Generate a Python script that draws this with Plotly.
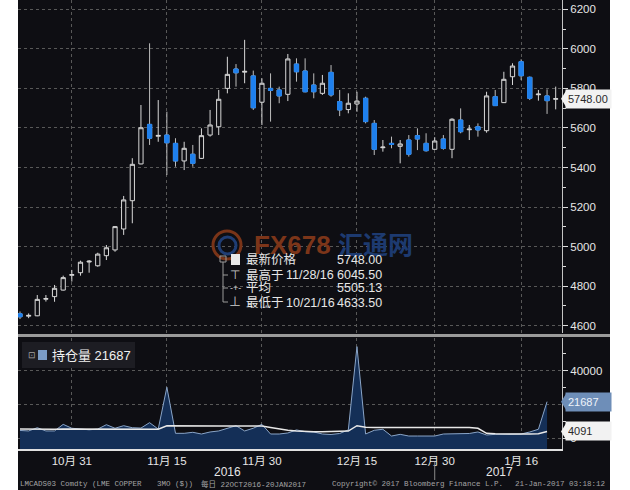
import plotly.graph_objects as go

# ---------------- data ----------------
dates = ["2016-10-21", "2016-10-24", "2016-10-25", "2016-10-26", "2016-10-27", "2016-10-28", "2016-10-31",
         "2016-11-01", "2016-11-02", "2016-11-03", "2016-11-04", "2016-11-07", "2016-11-08", "2016-11-09",
         "2016-11-10", "2016-11-11", "2016-11-14", "2016-11-15", "2016-11-16", "2016-11-17", "2016-11-18",
         "2016-11-21", "2016-11-22", "2016-11-23", "2016-11-24", "2016-11-25", "2016-11-28", "2016-11-29",
         "2016-11-30", "2016-12-01", "2016-12-02", "2016-12-05", "2016-12-06", "2016-12-07", "2016-12-08",
         "2016-12-09", "2016-12-12", "2016-12-13", "2016-12-14", "2016-12-15", "2016-12-16", "2016-12-19",
         "2016-12-20", "2016-12-21", "2016-12-22", "2016-12-23", "2016-12-28", "2016-12-29", "2016-12-30",
         "2017-01-03", "2017-01-04", "2017-01-05", "2017-01-06", "2017-01-09", "2017-01-10", "2017-01-11",
         "2017-01-12", "2017-01-13", "2017-01-16", "2017-01-17", "2017-01-18", "2017-01-19", "2017-01-20"]

opens = [4660, 4648, 4650, 4734, 4747, 4780, 4855, 4868, 4922, 4903, 4954, 4983, 5089, 5232, 5418, 5618,
         5558, 5564, 5522, 5433, 5467, 5446, 5564, 5606, 5800, 5898, 5882, 5863, 5730, 5800, 5792, 5770,
         5923, 5888, 5817, 5775, 5881, 5733, 5693, 5721, 5750, 5623, 5500, 5522, 5507, 5539, 5561, 5522,
         5492, 5544, 5492, 5640, 5591, 5606, 5586, 5758, 5728, 5859, 5935, 5856, 5768, 5762, 5745]
highs = [4672, 4662, 4755, 4755, 4806, 4853, 4882, 4929, 4932, 4969, 5008, 5104, 5256, 5447, 5716, 6028,
         5741, 5682, 5548, 5530, 5514, 5598, 5691, 5792, 5960, 5923, 6045.5, 5890, 5851, 5876, 5809, 5974,
         5952, 5952, 5876, 5868, 5918, 5792, 5775, 5783, 5758, 5640, 5539, 5556, 5539, 5564, 5598, 5573,
         5553, 5564, 5649, 5699, 5615, 5623, 5783, 5792, 5884, 5927, 5947, 5860, 5792, 5795, 5809]
lows = [4633.5, 4638, 4648, 4722, 4721, 4778, 4823, 4853, 4868, 4898, 4932, 4974, 5059, 5118, 5416, 5514,
        5530, 5362, 5404, 5387, 5404, 5444, 5556, 5564, 5775, 5809, 5826, 5691, 5615, 5632, 5725, 5736,
        5834, 5780, 5750, 5767, 5758, 5660, 5674, 5682, 5623, 5463, 5480, 5497, 5421, 5455, 5488, 5480,
        5490, 5490, 5447, 5573, 5539, 5556, 5576, 5711, 5726, 5817, 5842, 5741, 5738, 5671, 5694]
closes = [4645, 4652, 4733, 4737, 4789, 4843, 4858, 4921, 4926, 4962, 4994, 5101, 5236, 5416, 5601, 5548,
          5562, 5525, 5433, 5497, 5421, 5561, 5615, 5745, 5871, 5879, 5886, 5702, 5826, 5790, 5762, 5949,
          5884, 5783, 5783, 5826, 5767, 5691, 5725, 5736, 5632, 5492, 5503, 5517, 5519, 5467, 5544, 5485,
          5534, 5497, 5644, 5581, 5594, 5590, 5762, 5713, 5846, 5913, 5864, 5750, 5771, 5738, 5748]

# open interest (持仓量) and its average line, one value per day up to Jan 19
open_interest = [4700, 4400, 6300, 4400, 4400, 8300, 6000, 5400, 5100, 5500, 8100, 6000, 7500, 6300, 6100,
                 9300, 5500, 30200, 3000, 3000, 3600, 2600, 3800, 4400, 6000, 7500, 4400, 6000, 8300, 2600,
                 2600, 3200, 5000, 4000, 3800, 2600, 2300, 2900, 5000, 54200, 2600, 4800, 5400, 1400, 2400,
                 1400, 1400, 1400, 1400, 2600, 2600, 2900, 2900, 3800, 2000, 2400, 2400, 2400, 2600, 3800,
                 5400, 21687]
oi_average = [5500, 5400, 5500, 5400, 5400, 5600, 5600, 5500, 5400, 5400, 5500, 5500, 5600, 5500, 5500,
              5600, 5400, 7500, 7400, 7300, 7300, 7300, 7300, 7300, 7300, 7300, 7300, 7300, 7300, 6500,
              5500, 4800, 4300, 4000, 4000, 4000, 4000, 4000, 4300, 7500, 6600, 6500, 6500, 6500, 6500,
              6500, 6500, 6500, 6500, 6500, 6500, 6500, 6500, 6000, 3000, 2700, 2600, 2600, 2600, 2600,
              2700, 4091]

tick_dates = ["2016-10-31", "2016-11-15", "2016-11-30", "2016-12-15", "2016-12-30", "2017-01-16"]
tick_labels = ["10月 31", "11月 15", "11月 30", "12月 15", "12月 30", "1月 16"]

legend_rows = ["最新价格", "最高于", "平均", "最低于"]
legend_dates = ["", "11/28/16", "", "10/21/16"]
legend_values = ["5748.00", "6045.50", "5505.13", "4633.50"]
oi_label = "持仓量"

price_range = [4563, 6247]
oi_range = [-6260, 59300]

# ---------------- geometry helpers ----------------
W, H = 630, 490
ML, MR, MT, MB = 18, 68, 0, 41
PW, PH = W - ML - MR, H - MT - MB


def xp(px):
    return (px - ML) / PW


def yp(py):
    return (MT + PH - py) / PH


BG = "#0e0e13"
BLUE = "#1e80ee"
GRID = "#585858"
TXT = "#e6e6e6"
FONT = "Liberation Sans, Arial, Noto Sans CJK SC"
MONO = "Liberation Mono, DejaVu Sans Mono, Noto Sans CJK SC"

x = list(range(len(dates)))
tickvals = [dates.index(d) for d in tick_dates]
xrange = [-0.23, 62.73]

fig = go.Figure()

# all candles: wicks + outlines in grey/white
fig.add_trace(go.Candlestick(
    x=x, open=opens, high=highs, low=lows, close=closes,
    increasing=dict(line=dict(color="#d8d8d8", width=1), fillcolor=BG),
    decreasing=dict(line=dict(color="#bdbdbd", width=1), fillcolor=BLUE),
    whiskerwidth=0, showlegend=False, hoverinfo="skip", xaxis="x", yaxis="y"))
# blue bodies for falling candles
body_hi = [max(o, c) for o, c in zip(opens, closes)]
body_lo = [min(o, c) for o, c in zip(opens, closes)]
fig.add_trace(go.Candlestick(
    x=x, open=opens, high=body_hi, low=body_lo, close=closes,
    increasing=dict(line=dict(color="rgba(0,0,0,0)", width=1), fillcolor="rgba(0,0,0,0)"),
    decreasing=dict(line=dict(color=BLUE, width=1), fillcolor=BLUE),
    whiskerwidth=0, showlegend=False, hoverinfo="skip", xaxis="x", yaxis="y"))

# open interest area (filled to bottom of panel)
xo = x[:len(open_interest)]
fig.add_trace(go.Scatter(x=xo, y=[oi_range[0]] * len(xo), mode="lines", line=dict(width=0),
                         showlegend=False, hoverinfo="skip", xaxis="x2", yaxis="y2"))
fig.add_trace(go.Scatter(x=xo, y=open_interest, mode="lines", fill="tonexty", fillcolor="#142f57",
                         line=dict(color="#8aa5c8", width=1), showlegend=False, hoverinfo="skip",
                         xaxis="x2", yaxis="y2"))
fig.add_trace(go.Scatter(x=xo, y=oi_average, mode="lines", line=dict(color="#e8e8e8", width=1.5),
                         showlegend=False, hoverinfo="skip", xaxis="x2", yaxis="y2"))

axis_common = dict(showgrid=True, gridcolor=GRID, griddash="dot", gridwidth=1, zeroline=False)

fig.update_layout(
    width=W, height=H, margin=dict(l=ML, r=MR, t=MT, b=MB, autoexpand=False),
    paper_bgcolor=BG, plot_bgcolor=BG, showlegend=False,
    font=dict(family=FONT, color=TXT),
    xaxis=dict(domain=[0, 1], anchor="y", range=xrange, tickvals=tickvals, showticklabels=False,
               ticks="", rangeslider=dict(visible=False), **axis_common),
    yaxis=dict(domain=[yp(333), 1], anchor="x", side="right", range=price_range, tick0=0, dtick=200,
               ticks="outside", ticklen=5, tickcolor="#dcdcdc", showline=True, linecolor="#c4c4c4",
               tickfont=dict(size=11.5, color=TXT),
               minor=dict(dtick=100, ticks="outside", ticklen=3, tickcolor="#dcdcdc", showgrid=False),
               **axis_common),
    xaxis2=dict(domain=[0, 1], anchor="y2", range=xrange, tickvals=tickvals, ticktext=tick_labels,
                ticks="", showline=True, linecolor="#e0e0e0", linewidth=1.5,
                tickfont=dict(size=11.5, color=TXT), rangeslider=dict(visible=False), **axis_common),
    yaxis2=dict(domain=[0, yp(338)], anchor="x2", side="right", range=oi_range, tick0=0, dtick=20000,
                tickformat="d", ticks="outside", ticklen=5, tickcolor="#dcdcdc", showline=True,
                linecolor="#c4c4c4", tickfont=dict(size=11.5, color=TXT),
                minor=dict(dtick=10000, ticks="outside", ticklen=3, tickcolor="#dcdcdc", showgrid=False),
                **axis_common),
)

shapes = []
annos = []


def rect(x0, y0, x1, y1, fill, line=None, layer="above"):
    shapes.append(dict(type="rect", xref="paper", yref="paper", x0=xp(x0), x1=xp(x1), y0=yp(y1), y1=yp(y0),
                       fillcolor=fill, line=dict(width=0) if line is None else line, layer=layer))


def seg(x0, y0, x1, y1, color, width=1):
    shapes.append(dict(type="line", xref="paper", yref="paper", x0=xp(x0), x1=xp(x1), y0=yp(y0), y1=yp(y1),
                       line=dict(color=color, width=width), layer="above"))


def text(px, py, s, size=13, color=TXT, anchor="left", family=FONT, **kw):
    annos.append(dict(xref="paper", yref="paper", x=xp(px), y=yp(py), text=s, showarrow=False,
                      xanchor=anchor, yanchor="middle", font=dict(size=size, color=color, family=family), **kw))


# white margins outside the black terminal area
rect(0, 0, 18, 490, "white")
rect(610, 0, 630, 490, "white")
# separator between panels
rect(18, 334, 610, 337, "#9a9a9a")

# watermark
shapes.append(dict(type="circle", xref="paper", yref="paper", x0=xp(213), x1=xp(241), y0=yp(259), y1=yp(231),
                   line=dict(color="#7a3418", width=3), layer="above"))
shapes.append(dict(type="circle", xref="paper", yref="paper", x0=xp(219), x1=xp(236), y0=yp(254), y1=yp(237),
                   line=dict(color="#1f3d74", width=3), layer="above"))
text(252, 245, "<b>FX678</b>", size=26, color="#7c3519")
text(336, 245, "<b>汇通网</b>", size=25, color="#1d3a70")

# top legend block
rect(220, 256, 226, 262, "rgba(0,0,0,0)", line=dict(color="#9a9a9a", width=1))
seg(223, 262, 223, 302, "#9a9a9a")
for yy in (275, 288, 302):
    seg(223, yy, 228, yy, "#9a9a9a")
rect(231, 254, 240, 265, "#e8e8e8")
text(235, 275, "⊤", size=12, color="#d0d0d0", anchor="center")
text(235, 288, "-+-", size=9, color="#d0d0d0", anchor="center")
text(235, 302, "⊥", size=12, color="#d0d0d0", anchor="center")
row_y = [260, 275, 288, 302.5]
for ry, lab, dt, val in zip(row_y, legend_rows, legend_dates, legend_values):
    text(244, ry, lab, size=12.5)
    if dt:
        text(284, ry, dt, size=12.5)
    text(384, ry, val, size=12.5, anchor="right")

# lower legend box
rect(22, 342, 135, 368, "#1d1d23")
text(26, 355, "⊡", size=9, color="#a0a0a0")
rect(38, 350, 47, 360, "#7b9cc6")
text(50, 355, f"{oi_label} {open_interest[-1]}", size=13, color="#f0f0f0")


# value flags on the right axis
def flag(yref, yval, half, label, bg, fg):
    shapes.append(dict(type="path", xref="paper", yref=yref,
                       path=f"M {xp(561)},{yval} L {xp(566)},{yval + half} L {xp(566)},{yval - half} Z",
                       fillcolor=bg, line=dict(width=0), layer="above"))
    annos.append(dict(xref="paper", yref=yref, x=xp(565), y=yval, text=label, showarrow=False,
                      xanchor="left", yanchor="middle", width=41, height=14, align="left",
                      bgcolor=bg, borderpad=2, font=dict(size=11, color=fg, family=FONT)))


ppx_top = (price_range[1] - price_range[0]) / (yp(0) - yp(333)) / PH
ppx_bot = (oi_range[1] - oi_range[0]) / (yp(338) - yp(449)) / PH
flag("y", closes[-1], 8 * ppx_top, f"{closes[-1]:.2f}", "#f2f2f2", "#2a2a2a")
flag("y2", open_interest[-1], 8 * ppx_bot, f"{open_interest[-1]}", "#6e8eb8", "#eef3fa")
flag("y2", oi_average[-1], 8 * ppx_bot, f"{oi_average[-1]}", "#f2f2f2", "#2a2a2a")

# year labels centred on each year's span, and year divider
years = [d[:4] for d in dates]
for yr in sorted(set(years)):
    idx = [i for i, v in enumerate(years) if v == yr]
    annos.append(dict(xref="x2", yref="paper", x=(idx[0] + idx[-1]) / 2, y=yp(472), text=yr, showarrow=False,
                      xanchor="center", yanchor="middle", font=dict(size=12, color=TXT, family=FONT)))
last_2016 = max(i for i, v in enumerate(years) if v == "2016")
shapes.append(dict(type="line", xref="x2", yref="paper", x0=last_2016, x1=last_2016, y0=yp(480), y1=yp(462),
                   line=dict(color="#8a8a8a", width=1), layer="above"))

# footer
FOOT = "#a4a4a4"
text(18, 484, "LMCADS03 Comdty (LME COPPER", size=7.5, color=FOOT, family=MONO)
text(155, 484, "3MO ($))", size=7.5, color=FOOT, family=MONO)
text(199, 484, "每日 22OCT2016-20JAN2017", size=7.5, color=FOOT, family=MONO)
text(330, 484, "Copyright© 2017 Bloomberg Finance L.P.", size=7.5, color=FOOT, family=MONO)
text(607, 484, "21-Jan-2017 03:18:12", size=7.5, color=FOOT, family=MONO, anchor="right")

fig.update_layout(shapes=shapes, annotations=annos)
fig.write_html("out.html", config={"displayModeBar": False},
               post_script="document.body.style.margin='0';document.body.style.overflow='hidden';")
